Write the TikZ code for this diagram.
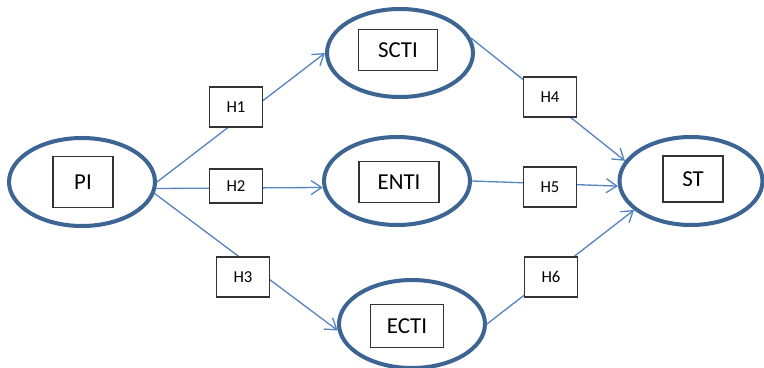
\documentclass[tikz,border=0pt]{standalone}
\usepackage{fontspec}
\setmainfont{Carlito}
\usetikzlibrary{arrows.meta,shapes.geometric}
\definecolor{ringblue}{HTML}{3D6594}
\definecolor{linkblue}{HTML}{5585C0}

\begin{document}
\begin{tikzpicture}[x=0.02cm,y=-0.02cm,>={Straight Barb[length=6pt,width=8pt]}]
  \tikzstyle{construct}=[ellipse,draw=ringblue,line width=2.3pt,minimum width=2.92cm,minimum height=1.76cm,inner sep=0pt]
  \tikzstyle{labelbox}=[rectangle,draw=black!80,line width=0.6pt,fill=white,font=\fontsize{13}{15}\selectfont]
  \tikzstyle{hyp}=[rectangle,draw=black!80,line width=0.6pt,fill=white,minimum width=1.06cm,minimum height=0.8cm,font=\fontsize{9.5}{11}\selectfont]
  \tikzstyle{link}=[->,draw=linkblue,line width=0.75pt]

  \useasboundingbox (0,0) rectangle (764,368);

  % constructs
  \node[construct] (PI)   at (82,182)  {};
  \node[construct] (SCTI) at (400,53)  {};
  \node[construct] (ENTI) at (397,181) {};
  \node[construct] (ECTI) at (412,324) {};
  \node[construct,minimum width=2.86cm] (ST) at (691,181) {};

  \node[labelbox,minimum width=1.2cm,minimum height=1.02cm]  (PIbox)   at (83,182)  {PI};
  \node[labelbox,minimum width=1.58cm,minimum height=0.82cm] (SCTIbox) at (398,50)  {SCTI};
  \node[labelbox,minimum width=1.6cm,minimum height=0.82cm]  (ENTIbox) at (399,182) {ENTI};
  \node[labelbox,minimum width=1.46cm,minimum height=0.86cm] (ECTIbox) at (407,326) {ECTI};
  \node[labelbox,minimum width=1.2cm,minimum height=0.92cm]  (STbox)   at (693,179) {ST};

  % paths
  \draw[link] (PI.east)  -- (SCTI.west);
  \draw[link] (PI.-5)    -- (ENTI.185);
  \draw[link] (PI.-9)    -- (ECTI.185);
  \draw[link] (SCTI.12)  -- (ST.163);
  \draw[link] (ENTI.east) -- (ST.184);
  \draw[link] (ECTI.east) -- (ST.207);

  % hypotheses
  \node[hyp] (H1) at (236,107) {H1};
  \node[hyp,minimum height=0.68cm] (H2) at (236,186) {H2};
  \node[hyp] (H3) at (243,277) {H3};
  \node[hyp] (H4) at (550,97)  {H4};
  \node[hyp] (H5) at (550,187) {H5};
  \node[hyp] (H6) at (551,277) {H6};
\end{tikzpicture}
\end{document}
